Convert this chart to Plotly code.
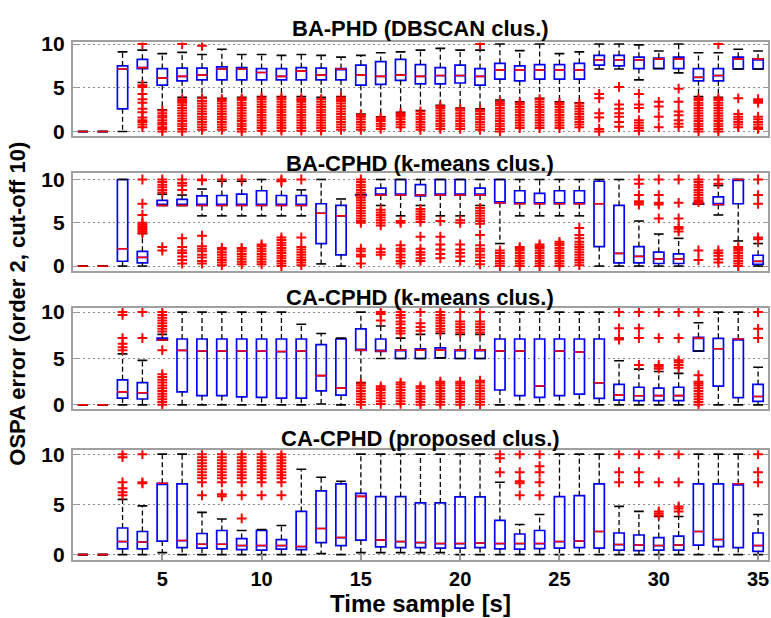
import plotly.graph_objects as go

t = list(range(1, 36))

titles = ["BA-PHD (DBSCAN clus.)", "BA-CPHD (k-means clus.)",
          "CA-CPHD (k-means clus.)", "CA-CPHD (proposed clus.)"]

# ---------------- Panel 1: BA-PHD (DBSCAN) ----------------
q1_1 = [0, 0, 2.6, 7.2, 5.3, 5.8, 5.9, 5.9, 5.9, 5.9, 5.9, 5.9, 5.9, 5.9, 5.3, 5.4, 5.85,
        5.45, 5.45, 5.55, 5.3, 6.0, 5.8, 6.0, 6.0, 6.0, 7.6, 7.5, 7.2, 7.2, 7.2, 5.8, 5.8, 7.15, 7.15]
med_1 = [0, 0, 7.15, 7.3, 6.1, 6.3, 6.45, 7.15, 7.15, 6.75, 6.3, 6.9, 6.45, 7.15, 6.45, 6.3, 6.45,
         6.3, 6.4, 6.4, 6.3, 7.05, 7.05, 7.05, 7.05, 7.05, 8.2, 8.2, 8.2, 8.3, 8.3, 6.2, 6.4, 8.3, 8.3]
q3_1 = [0, 0, 7.5, 8.25, 7.2, 7.25, 7.25, 7.4, 7.3, 7.2, 7.2, 7.3, 7.25, 7.2, 7.6, 8.0, 8.25,
        7.65, 7.3, 7.6, 7.2, 7.8, 7.5, 7.65, 7.65, 7.8, 8.7, 8.7, 8.5, 8.4, 8.5, 7.2, 7.2, 8.5, 8.3]
lo_1 = [0, 0, 0, 5.6, 2.5, 3.9, 3.9, 3.8, 3.9, 4.0, 4.0, 4.0, 3.9, 4.0, 2.0, 1.7, 2.2,
        2.4, 3.0, 2.7, 2.6, 3.6, 3.4, 3.8, 3.4, 3.3, 7.15, 7.15, 5.9, 7.2, 6.7, 4.0, 3.9, 7.15, 7.15]
hi_1 = [0, 0, 9.1, 9.3, 8.9, 9.05, 8.8, 9.4, 8.8, 8.8, 8.7, 8.8, 8.7, 8.5, 8.7, 9.0, 9.1,
        9.3, 9.5, 9.3, 9.3, 10, 9.25, 10, 8.9, 9.1, 10, 10, 9.9, 9.2, 10, 9.0, 9.0, 9.4, 9.2]
out_1 = {
    4: [10, 5.3, 5.1, 4.3, 3.7, 3.3, 2.6, 2.2, 1.6, 1.3, 1.1, 0.8, 0.5],
    5: [0.0, 0.3, 0.5, 0.8, 1.0, 1.3, 1.6, 1.8, 2.1, 2.4],
    6: [10, 0.0, 0.3, 0.6, 0.9, 1.2, 1.5, 1.8, 2.1, 2.4, 2.7, 3.0, 3.3, 3.5, 3.7],
    7: [9.8, 0.2, 0.5, 0.8, 1.1, 1.4, 1.7, 2.0, 2.3, 2.6, 2.9, 3.2, 3.5, 3.8],
    8: [0.2, 0.5, 0.8, 1.1, 1.4, 1.7, 2.0, 2.3, 2.6, 2.9, 3.2, 3.5, 3.7],
    9: [0.0, 0.3, 0.6, 0.9, 1.2, 1.5, 1.8, 2.1, 2.4, 2.7, 3.0, 3.3, 3.6, 3.8],
    10: [0.1, 0.4, 0.7, 1.0, 1.3, 1.6, 1.9, 2.2, 2.5, 2.8, 3.1, 3.4, 3.7, 3.9],
    11: [0.1, 0.4, 0.7, 1.0, 1.3, 1.6, 1.9, 2.2, 2.5, 2.8, 3.1, 3.4, 3.7, 3.9],
    12: [0.1, 0.4, 0.7, 1.0, 1.3, 1.6, 1.9, 2.2, 2.5, 2.8, 3.1, 3.4, 3.6, 3.8],
    13: [0.1, 0.4, 0.7, 1.0, 1.3, 1.6, 1.9, 2.2, 2.5, 2.8, 3.1, 3.4, 3.7],
    14: [0.2, 0.5, 0.8, 1.1, 1.4, 1.7, 2.0, 2.3, 2.6, 2.9, 3.2, 3.5, 3.7, 3.9],
    15: [0.2, 0.5, 0.8, 1.1, 1.4, 1.7, 1.9],
    16: [0.3, 0.6, 0.9, 1.2, 1.4, 1.6],
    17: [0.5, 0.8, 1.1, 1.4, 1.7, 1.9, 2.1],
    18: [0.2, 0.5, 0.8, 1.1, 1.4, 1.7, 2.0, 2.3],
    19: [0.3, 0.6, 0.9, 1.2, 1.5, 1.8, 2.1, 2.4, 2.7, 2.9],
    20: [0.3, 0.6, 0.9, 1.2, 1.5, 1.8, 2.1, 2.4, 2.6],
    21: [10, 0.2, 0.5, 0.8, 1.1, 1.4, 1.7, 2.0, 2.3, 2.5],
    22: [0.0, 0.3, 0.6, 0.9, 1.2, 1.5, 1.8, 2.1, 2.4, 2.7, 3.0, 3.2, 3.4],
    23: [0.4, 0.7, 1.0, 1.3, 1.6, 1.9, 2.2, 2.5, 2.8, 3.1, 3.3],
    24: [0.4, 0.7, 1.0, 1.3, 1.6, 1.9, 2.2, 2.5, 2.8, 3.1, 3.4, 3.7],
    25: [0.4, 0.7, 1.0, 1.3, 1.6, 1.9, 2.2, 2.5, 2.8, 3.1, 3.3],
    26: [0.5, 0.8, 1.1, 1.4, 1.7, 2.0, 2.3, 2.6, 2.9, 3.2],
    27: [4.3, 3.8, 2.1, 1.6, 0.3, 0.0],
    28: [5.1, 3.1, 2.6, 2.1, 1.7, 1.1, 0.55],
    29: [4.3, 3.1, 2.7, 1.3, 1.0, 0.7, 0.4, 0.1],
    30: [3.4, 2.85, 1.7, 0.5],
    31: [4.9, 3.4, 2.3, 1.85, 1.3, 0.9, 0.55],
    32: [0.0, 0.3, 0.6, 0.9, 1.2, 1.5, 1.8, 2.1, 2.4, 2.7, 3.0, 3.3, 3.6, 3.8],
    33: [10, 0.0, 0.3, 0.6, 0.9, 1.2, 1.5, 1.8, 2.1, 2.4, 2.7, 3.0, 3.3, 3.6, 3.8],
    34: [3.8, 2.0, 1.7, 1.4, 1.1, 0.8, 0.5],
    35: [3.7, 3.5, 3.3, 1.7, 1.4, 1.1, 0.8, 0.5, 0.3],
}

# ---------------- Panel 2: BA-CPHD (k-means) ----------------
q1_2 = [0, 0, 0.56, 0.37, 7.0, 7.0, 7.0, 7.0, 7.0, 7.0, 7.0, 7.0, 2.6, 1.3, 8.15, 8.2, 8.2,
        8.1, 8.2, 8.2, 8.2, 7.3, 7.2, 7.2, 7.2, 7.2, 2.25, 0.37, 0.37, 0.3, 0.3, 7.15, 7.1, 7.2, 0.2]
med_2 = [0, 0, 2.0, 1.0, 7.0, 7.0, 7.0, 7.0, 7.0, 7.0, 7.0, 7.0, 6.1, 5.8, 8.15, 8.2, 8.2,
         8.2, 8.2, 8.2, 8.2, 7.3, 7.2, 7.2, 7.2, 7.2, 7.2, 1.46, 1.12, 0.82, 0.8, 7.2, 7.1, 10, 0.55]
q3_2 = [0, 0, 10, 1.7, 7.6, 7.7, 8.1, 8.15, 8.3, 8.7, 8.15, 8.15, 7.2, 7.0, 8.25, 9.0, 10,
        9.4, 10, 10, 9.0, 10, 8.7, 8.4, 8.7, 8.7, 9.8, 7.0, 2.25, 1.6, 1.4, 7.25, 8.0, 10, 1.25]
lo_2 = [0, 0, 0, 0, 7.0, 7.0, 5.8, 5.8, 5.8, 5.8, 5.8, 5.8, 0.25, 0, 8.15, 7.0, 5.8,
        7.0, 5.8, 5.8, 7.0, 2.6, 5.8, 5.8, 5.8, 5.8, 0, 0, 0, 0, 0, 7.15, 5.9, 2.9, 0]
hi_2 = [0, 0, 10, 3.75, 8.3, 8.2, 8.9, 9.8, 9.8, 10, 9.8, 8.8, 10, 7.75, 8.25, 10, 10,
        10, 10, 10, 10, 10, 10, 10, 10, 10, 10, 10, 5.2, 3.7, 3.2, 7.25, 9.3, 10, 2.6]
out_2 = {
    4: [10, 7.2, 5.9, 5.0, 4.8, 4.6, 4.4, 4.2, 4.0, 3.8],
    5: [10, 9.7, 9.4, 9.1, 8.8, 8.5, 2.2, 1.8],
    6: [10, 9.6, 9.3, 8.8, 3.2, 2.2, 1.8, 1.5, 1.1, 0.7, 0.3],
    7: [10, 9.9, 3.5, 2.3, 2.0, 1.7, 1.3, 1.0, 0.6, 0.3],
    8: [10, 0.1, 0.4, 0.7, 1.0, 1.3, 1.6, 1.9, 2.1],
    9: [10, 0.2, 0.5, 0.8, 1.1, 1.4, 1.7, 2.0, 2.1],
    10: [0.2, 0.5, 0.8, 1.1, 1.4, 1.7, 2.0, 2.3, 2.5],
    11: [10, 9.8, 0.0, 0.3, 0.6, 0.9, 1.2, 1.5, 1.8, 2.1, 2.4, 2.7, 3.0, 3.3],
    12: [10, 3.3, 0.1, 0.4, 0.7, 1.0, 1.3, 1.6, 1.9, 2.2],
    15: [10, 9.7, 9.4, 9.1, 8.8, 8.5, 7.9, 7.6, 7.3, 7.0, 6.7, 6.4, 6.1, 5.8, 5.5, 5.2, 5.0,
         2.0, 1.7, 1.3, 1.1, 0.3],
    16: [6.5, 6.2, 5.9, 5.6, 5.3, 5.0, 4.7, 2.0, 1.6, 1.3],
    17: [5.2, 5.0, 2.4, 2.0, 1.7, 1.3, 1.0, 0.6, 0.3],
    18: [6.6, 6.3, 6.0, 5.7, 5.4, 5.1, 3.4, 2.0, 1.6, 1.3, 0.9, 0.6],
    19: [5.2, 3.4, 2.5, 1.9, 1.4, 0.9],
    20: [5.3, 5.0, 2.5, 1.9, 1.5, 1.1, 0.6],
    21: [6.7, 6.4, 6.1, 5.8, 5.5, 5.2, 4.9, 3.6, 2.4, 2.0, 1.7, 1.3, 1.0, 0.6, 0.2],
    22: [1.8, 1.5, 1.2, 0.9, 0.6, 0.3, 0.0],
    23: [0.0, 0.3, 0.6, 0.9, 1.2, 1.5, 1.8, 2.0, 2.2],
    24: [0.0, 0.3, 0.6, 0.9, 1.2, 1.5, 1.8, 2.1, 2.3, 2.5],
    25: [0.0, 0.3, 0.6, 0.9, 1.2, 1.5, 1.8, 2.1, 2.4, 2.6, 2.8],
    26: [4.4, 3.6, 3.2, 2.8, 2.5, 2.2, 1.9, 1.6, 1.3, 1.0, 0.7, 0.4, 0.1],
    29: [10, 9.5, 8.2, 7.5, 7.3, 7.1],
    30: [10, 8.2, 7.3, 7.1, 5.5],
    31: [10, 7.3, 5.5, 4.5, 4.3, 4.0],
    32: [10, 9.7, 9.4, 9.1, 8.8, 8.5, 8.2, 7.9, 7.6, 7.4, 1.8, 0.7],
    33: [10, 9.5, 1.8, 1.5, 1.2, 0.8, 0.4],
    34: [0.0, 0.3, 0.6, 0.9, 1.2, 1.5, 1.8, 2.0, 2.2],
    35: [10, 8.2, 7.2, 3.3, 3.1],
}

# ---------------- Panel 3: CA-CPHD (k-means) ----------------
q1_3 = [0, 0, 0.73, 0.63, 7.0, 1.4, 1.0, 1.0, 0.87, 0.8, 0.73, 0.73, 1.5, 1.05, 5.87, 5.77, 5.0,
        5.0, 5.07, 5.0, 5.0, 1.6, 1.0, 0.8, 1.0, 1.15, 0.7, 0.52, 0.45, 0.45, 0.45, 5.8, 2.03, 0.77, 0.38]
med_3 = [0, 0, 1.4, 1.3, 7.0, 5.87, 5.8, 5.8, 5.8, 5.8, 5.75, 5.8, 3.15, 1.8, 5.9, 5.8, 5.9,
         5.9, 5.9, 5.9, 5.9, 5.8, 5.8, 2.03, 5.8, 5.7, 2.38, 1.05, 0.98, 1.0, 1.0, 7.2, 6.05, 7.1, 0.9]
q3_3 = [0, 0, 2.7, 2.4, 7.2, 7.1, 7.1, 7.1, 7.1, 7.1, 7.1, 7.1, 6.5, 7.1, 8.2, 7.1, 5.94,
        6.05, 6.15, 5.94, 5.94, 7.1, 7.1, 7.1, 7.1, 7.1, 7.1, 2.2, 1.9, 1.8, 1.9, 7.27, 7.17, 7.1, 2.2]
lo_3 = [0, 0, 0, 0, 7.0, 0, 0, 0, 0, 0, 0, 0, 0.1, 0, 2.4, 5.0, 5.0,
        5.0, 5.07, 5.0, 5.0, 0, 0, 0, 0, 0, 0, 0, 0, 0, 0, 5.8, 0, 0, 0]
hi_3 = [0, 0, 5.5, 4.8, 7.6, 10, 10, 10, 10, 10, 10, 8.7, 7.7, 7.2, 10, 8.5, 7.2,
        7.6, 7.7, 7.6, 7.6, 10, 10, 10, 10, 10, 10, 4.75, 3.85, 3.6, 3.4, 8.85, 10, 10, 4.05]
out_3 = {
    3: [10, 9.7, 7.2, 6.6, 6.2, 5.9],
    4: [10, 7.2],
    5: [10, 9.7, 9.4, 9.1, 8.8, 8.5, 8.2, 7.9, 5.9,
        3.3, 3.0, 2.7, 2.4, 2.1, 1.8, 1.5, 1.2, 0.9, 0.6, 0.3, 0.0],
    15: [0.0, 0.3, 0.6, 0.9, 1.2, 1.5, 1.8, 2.1, 2.3],
    16: [10, 9.8, 9.1, 0.1, 0.4, 0.7, 1.0, 1.3, 1.6, 1.8, 2.0],
    17: [10, 9.7, 9.4, 9.0, 8.7, 8.3, 8.0, 7.7, 0.1, 0.4, 0.7, 1.0, 1.3, 1.6, 1.9, 2.2, 2.4],
    18: [10, 8.8, 8.4, 8.0, 0.0, 0.3, 0.6, 0.9, 1.2, 1.5, 1.8, 2.0],
    19: [10, 9.7, 9.4, 9.1, 8.8, 8.5, 8.2, 7.9, 0.0, 0.3, 0.6, 0.9, 1.2, 1.5, 1.8, 2.1, 2.3, 2.5],
    20: [10, 9.0, 8.7, 8.4, 8.1, 7.8, 0.0, 0.3, 0.6, 0.9, 1.2, 1.5, 1.8, 2.1, 2.3, 2.5],
    21: [10, 9.0, 8.7, 8.4, 8.1, 7.8, 0.0, 0.3, 0.6, 0.9, 1.2, 1.5, 1.8, 2.1, 2.4, 2.6],
    28: [10, 8.25, 7.2, 7.05],
    29: [10, 8.25, 7.2, 4.3],
    30: [10, 7.2, 4.3, 4.1, 3.9],
    31: [10, 7.2, 4.8, 4.6, 4.3, 4.0],
    32: [10, 3.2, 0.0, 0.3, 0.6, 0.9, 1.2, 1.5, 1.8, 2.1, 2.3, 2.5],
    35: [10, 8.2, 7.2],
}

# ---------------- Panel 4: CA-CPHD (proposed) ----------------
q1_4 = [0, 0, 0.58, 0.58, 1.35, 0.7, 0.65, 0.58, 0.5, 0.45, 0.55, 0.5, 1.2, 0.9, 1.45, 0.77, 0.7,
        0.7, 0.65, 0.65, 0.7, 0.58, 0.55, 0.6, 0.65, 0.7, 0.65, 0.45, 0.4, 0.45, 0.45, 0.95, 0.8, 0.7, 0.32]
med_4 = [0, 0, 1.3, 1.25, 7.1, 1.4, 1.03, 1.03, 0.9, 0.9, 0.9, 0.8, 2.6, 1.7, 5.8, 1.45, 1.3,
         1.2, 1.1, 1.1, 1.15, 1.1, 1.1, 1.1, 1.3, 1.35, 2.3, 1.0, 0.95, 0.9, 0.95, 2.3, 1.5, 7.05, 0.9]
q3_4 = [0, 0, 2.65, 2.3, 7.1, 7.05, 2.1, 2.4, 1.6, 2.4, 1.5, 4.3, 6.35, 7.05, 6.1, 5.77, 5.77,
        5.15, 5.15, 5.75, 5.75, 3.4, 2.05, 2.4, 5.77, 5.87, 7.05, 2.15, 1.95, 1.7, 1.85, 7.05, 7.05, 7.05, 2.15]
lo_4 = [0, 0, 0, 0, 0.2, 0, 0, 0, 0, 0, 0, 0, 0.1, 0, 0.2, 0.2, 0.2,
        0.2, 0.2, 0, 0, 0, 0, 0, 0, 0, 0, 0, 0, 0, 0, 0, 0, 0, 0]
hi_4 = [0, 0, 5.5, 4.85, 10, 10, 4.2, 3.55, 2.4, 2.5, 2.9, 8.5, 7.7, 7.3, 10, 10, 10,
        10, 10, 10, 10, 7.2, 3.0, 4.0, 10, 10, 10, 4.8, 4.3, 3.8, 3.8, 10, 10, 10, 4.0]
out_4 = {
    3: [10, 9.7, 7.2, 6.6, 6.2, 5.9],
    4: [10, 7.2, 7.1],
    7: [10, 9.7, 9.4, 9.1, 8.8, 8.5, 8.2, 7.9, 7.6, 7.2, 5.9],
    8: [10, 9.7, 9.4, 9.1, 8.8, 8.5, 8.2, 7.9, 7.6, 7.2, 6.0, 5.8],
    9: [10, 9.7, 9.4, 9.1, 8.8, 8.5, 8.2, 7.9, 7.6, 7.2, 5.9, 3.6],
    10: [10, 9.7, 9.4, 9.1, 8.8, 8.5, 8.2, 7.9, 7.6, 7.2, 5.9],
    11: [10, 9.7, 9.4, 9.1, 8.8, 8.5, 8.2, 7.9, 7.6, 7.2, 5.9],
    22: [10, 9.6, 8.2],
    23: [10, 8.2, 7.3, 7.1, 5.9],
    24: [10, 8.8, 8.2, 7.2, 5.9],
    28: [10, 8.2, 7.2],
    29: [10, 8.2, 7.2],
    30: [10, 7.2, 4.3, 4.1, 3.9],
    31: [10, 7.2, 4.8, 4.6, 4.3],
    35: [10, 8.2, 7.2],
}

panels = [
    (q1_1, med_1, q3_1, lo_1, hi_1, out_1),
    (q1_2, med_2, q3_2, lo_2, hi_2, out_2),
    (q1_3, med_3, q3_3, lo_3, hi_3, out_3),
    (q1_4, med_4, q3_4, lo_4, hi_4, out_4),
]

# ---------------- layout geometry (paper fractions) ----------------
W, H = 771, 618
x_dom = [73 / W, 769 / W]
y_doms = [[1 - 130 / H, 1 - 33.3 / H],
          [1 - 268.3 / H, 1 - 167.7 / H],
          [1 - 410.7 / H, 1 - 306 / H],
          [1 - 566 / H, 1 - 452.7 / H]]
y_ranges = [[-0.556, 10.19], [-0.56, 10.74], [-0.49, 10.49], [-0.58, 10.39]]
title_y = [19, 158, 296, 441]

BOX_W = 0.52
HALF = BOX_W / 2
FONT = "Liberation Sans, Arial, sans-serif"

fig = go.Figure()

for i, (q1, med, q3, lo, hi, outs) in enumerate(panels):
    xa = "x" if i == 0 else f"x{i+1}"
    ya = "y" if i == 0 else f"y{i+1}"
    # whiskers (dashed black)
    wx, wy = [], []
    for k, tt in enumerate(t):
        wx += [tt, tt, None, tt, tt, None]
        wy += [q3[k], hi[k], None, q1[k], lo[k], None]
    fig.add_trace(go.Scatter(x=wx, y=wy, mode="lines", xaxis=xa, yaxis=ya,
                             line=dict(color="black", width=1.3, dash="5px,3px"),
                             hoverinfo="skip", showlegend=False))
    # whisker caps
    fig.add_trace(go.Scatter(x=t + t, y=hi + lo, mode="markers", xaxis=xa, yaxis=ya,
                             marker=dict(symbol="line-ew", size=7,
                                         line=dict(color="black", width=1.6)),
                             hoverinfo="skip", showlegend=False))
    # boxes
    fig.add_trace(go.Box(x=t, q1=q1, median=med, q3=q3, lowerfence=q1, upperfence=q3,
                         xaxis=xa, yaxis=ya, width=BOX_W, boxpoints=False,
                         line=dict(color="#0000FF", width=1.7),
                         fillcolor="rgba(0,0,0,0)", whiskerwidth=0,
                         hoverinfo="skip", showlegend=False))
    # medians (red)
    mx, my = [], []
    for k, tt in enumerate(t):
        mx += [tt - HALF, tt + HALF, None]
        my += [med[k], med[k], None]
    fig.add_trace(go.Scatter(x=mx, y=my, mode="lines", xaxis=xa, yaxis=ya,
                             line=dict(color="#FF0000", width=1.6),
                             hoverinfo="skip", showlegend=False))
    # outliers
    ox, oy = [], []
    for tt, vals in outs.items():
        ox += [tt] * len(vals)
        oy += vals
    fig.add_trace(go.Scatter(x=ox, y=oy, mode="markers", xaxis=xa, yaxis=ya,
                             marker=dict(symbol="cross-thin-open", size=7, color="#FF0000",
                                         line=dict(color="#FF0000", width=2)),
                             hoverinfo="skip", showlegend=False))

layout = dict(
    width=W, height=H, margin=dict(l=0, r=0, t=0, b=0),
    paper_bgcolor="white", plot_bgcolor="white", showlegend=False,
    font=dict(family=FONT, color="black"),
)
annotations = []
for i in range(4):
    xk = "xaxis" if i == 0 else f"xaxis{i+1}"
    yk = "yaxis" if i == 0 else f"yaxis{i+1}"
    ya = "y" if i == 0 else f"y{i+1}"
    bottom = (i == 3)
    layout[xk] = dict(
        domain=x_dom, range=[0.5, 35.5], anchor=ya,
        tickmode="array", tickvals=[5, 10, 15, 20, 25, 30, 35] if bottom else [],
        ticktext=["<b>5</b>", "<b>10</b>", "<b>15</b>", "<b>20</b>", "<b>25</b>",
                  "<b>30</b>", "<b>35</b>"] if bottom else [],
        ticks="inside" if bottom else "", ticklen=6, tickcolor="#999999", tickwidth=1.5,
        showticklabels=bottom, tickfont=dict(size=20, family=FONT),
        ticklabelstandoff=0, ticklabeloverflow="allow",
        showgrid=False, zeroline=False, showline=True, linecolor="#a0a0a0",
        linewidth=2, mirror=True,
    )
    layout[yk] = dict(
        domain=y_doms[i], range=y_ranges[i], anchor="x" if i == 0 else f"x{i+1}",
        tickmode="array", tickvals=[0, 5, 10],
        ticktext=["<b>0</b>", "<b>5</b>", "<b>10</b>"],
        ticks="inside", ticklen=5, tickcolor="#999999", tickwidth=1.2,
        ticklabelstandoff=2,
        tickfont=dict(size=21, family=FONT),
        showgrid=True, gridcolor="#8c8c8c", griddash="2px,3px", gridwidth=1,
        zeroline=False, showline=True, linecolor="#a0a0a0", linewidth=2, mirror="ticks",
    )
    annotations.append(dict(text=f"<b>{titles[i]}</b>", x=(73 + 769) / 2 / W,
                            y=1 - title_y[i] / H, xref="paper", yref="paper",
                            showarrow=False, font=dict(size=22, family=FONT),
                            xanchor="center", yanchor="middle"))
annotations.append(dict(text="<b>Time sample [s]</b>", x=(73 + 769) / 2 / W, y=0,
                        xref="paper", yref="paper", showarrow=False,
                        font=dict(size=24, family=FONT), xanchor="center", yanchor="bottom",
                        yshift=-7, borderpad=0))
annotations.append(dict(text="<b>OSPA error (order 2, cut-off 10)</b>", x=18 / W,
                        y=1 - 302 / H, xref="paper", yref="paper", showarrow=False,
                        textangle=-90, font=dict(size=22, family=FONT),
                        xanchor="center", yanchor="middle"))
layout["annotations"] = annotations

fig.update_layout(**layout)
fig.write_html("out.html")
